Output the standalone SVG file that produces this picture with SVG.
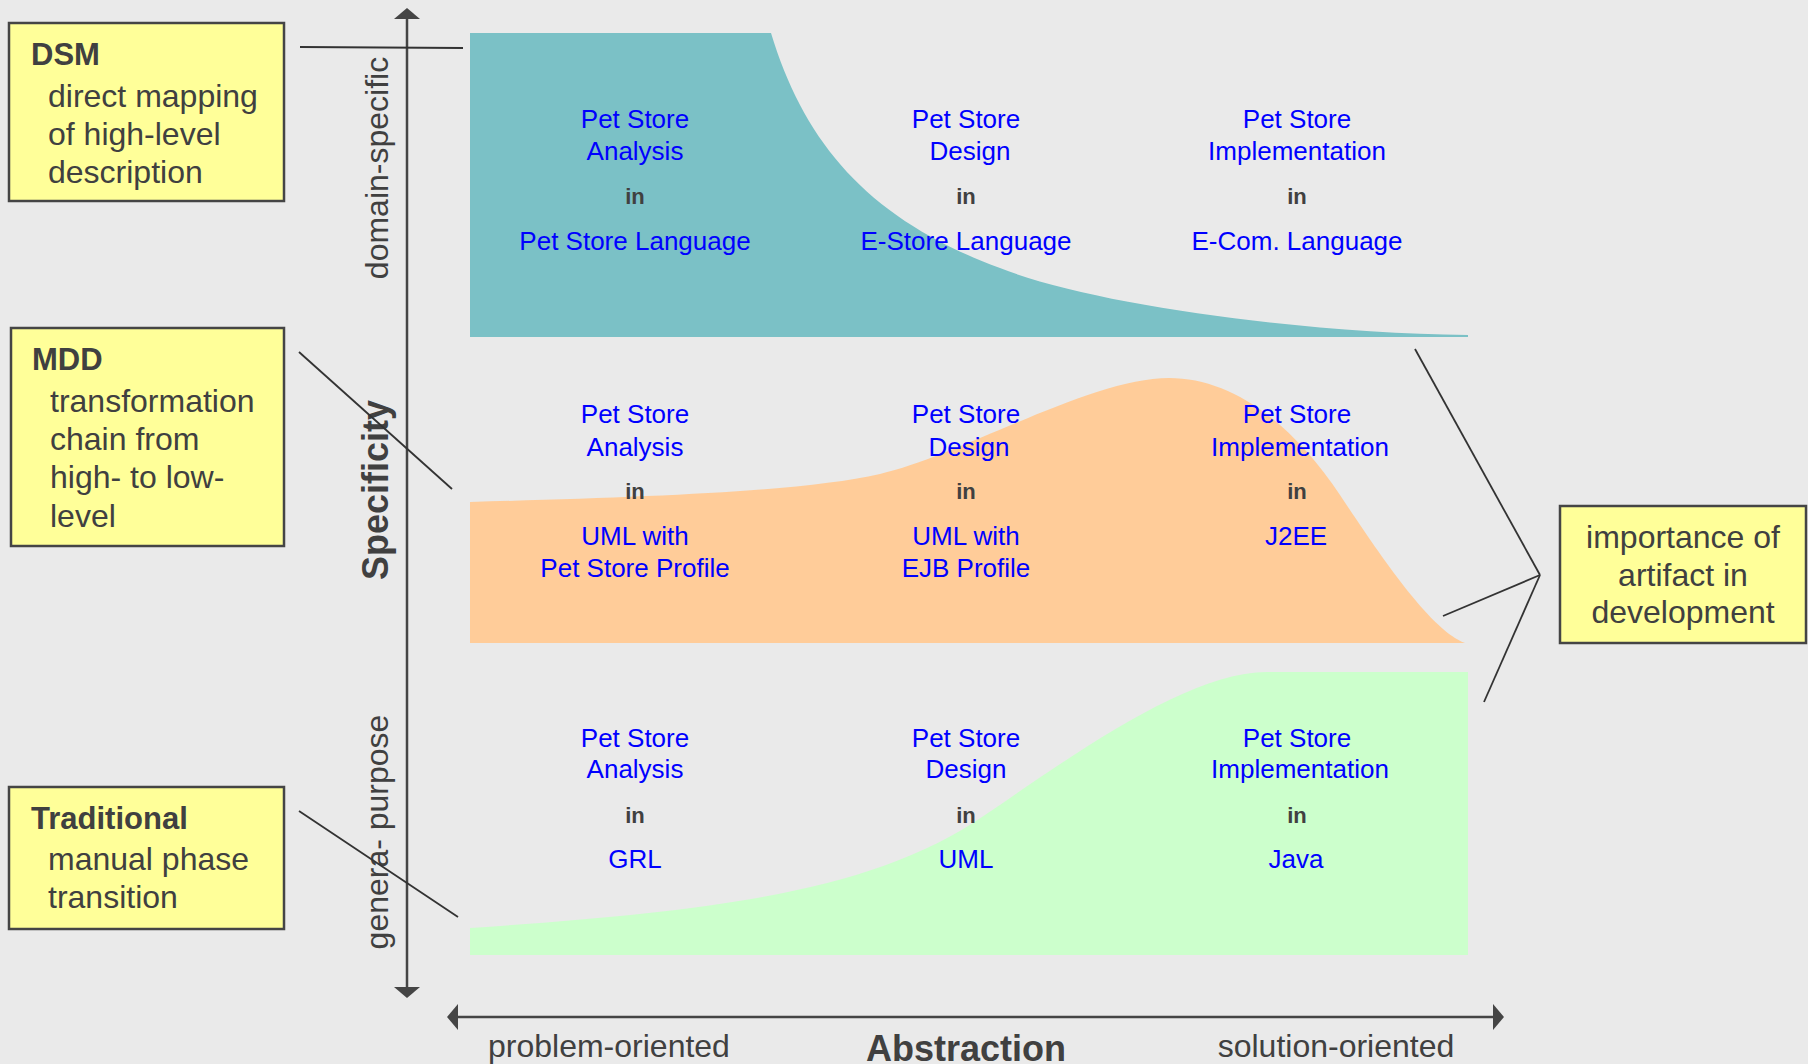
<svg xmlns="http://www.w3.org/2000/svg" width="1808" height="1064" viewBox="0 0 1808 1064">
<style>
.bg{fill:#EAEAEA}
.box{fill:#FFFF99;stroke:#454545;stroke-width:2.5}
.t{font-family:"Liberation Sans",Arial,sans-serif;fill:#404040}
.hd{font-size:31px;font-weight:bold}
.bd{font-size:32px}
.lbl{font-family:"Liberation Sans",Arial,sans-serif;fill:#0000FF;font-size:26px;text-anchor:middle}
.in{font-family:"Liberation Sans",Arial,sans-serif;fill:#404040;font-size:22px;font-weight:bold;text-anchor:middle}
.ax{stroke:#454545;stroke-width:2.5;fill:none}
.cn{stroke:#333333;stroke-width:1.8;fill:none}
.ah{fill:#454545}
</style>
<rect class="bg" x="0" y="0" width="1808" height="1064"/>

<g id="areas">
<path id="teal" d="M470,33 L771,33 C805,145 870,220 1000,268 C1090,304 1300,333 1468,335 L1468,337 L470,337 Z" fill="#7BC1C6"/>
<path id="orange" d="M470,502 C650,497 800,492 880,474 C960,456 1090,378 1169,378 C1230,378 1290,420 1340,495 C1380,555 1430,630 1465,643 L470,643 Z" fill="#FFCC99"/>
<path id="green" d="M470,928 C700,912 870,895 985,815 C1080,750 1190,672 1267,672 L1468,672 L1468,955 L470,955 Z" fill="#CCFFCC"/>
</g>

<g id="axes">
<line class="ax" x1="407" y1="16" x2="407" y2="990"/>
<polygon class="ah" points="407,8 394,19 420,19"/>
<polygon class="ah" points="407,998 394,987 420,987"/>
<line class="ax" x1="455" y1="1017" x2="1496" y2="1017"/>
<polygon class="ah" points="447,1017 458,1004 458,1030"/>
<polygon class="ah" points="1504,1017 1493,1004 1493,1030"/>
<text class="t" font-size="32" transform="translate(388,168) rotate(-90)" text-anchor="middle">domain-specific</text>
<text class="t" font-size="36" font-weight="bold" transform="translate(388,490) rotate(-90)" text-anchor="middle">Specificity</text>
<text class="t" font-size="32" transform="translate(388,832) rotate(-90)" text-anchor="middle">genera- purpose</text>
<text class="t" font-size="32" x="488" y="1057">problem-oriented</text>
<text class="t" font-size="36" font-weight="bold" x="966" y="1061" text-anchor="middle">Abstraction</text>
<text class="t" font-size="32" x="1336" y="1057" text-anchor="middle">solution-oriented</text>
</g>

<g id="connectors">
<line class="cn" x1="300" y1="47" x2="463" y2="48"/>
<line class="cn" x1="299" y1="352" x2="452" y2="489"/>
<line class="cn" x1="299" y1="811" x2="458" y2="917"/>
<line class="cn" x1="1540" y1="575" x2="1415" y2="349"/>
<line class="cn" x1="1540" y1="575" x2="1443" y2="616"/>
<line class="cn" x1="1540" y1="575" x2="1484" y2="702"/>
</g>

<g id="node-dsm">
<rect class="box" x="9" y="23" width="275" height="178"/>
<text class="t hd" x="31" y="65">DSM</text>
<text class="t bd" x="48" y="107">direct mapping</text>
<text class="t bd" x="48" y="145">of high-level</text>
<text class="t bd" x="48" y="183">description</text>
</g>

<g id="node-mdd">
<rect class="box" x="11" y="328" width="273" height="218"/>
<text class="t hd" x="32" y="370">MDD</text>
<text class="t bd" x="50" y="412">transformation</text>
<text class="t bd" x="50" y="450">chain from</text>
<text class="t bd" x="50" y="488">high- to low-</text>
<text class="t bd" x="50" y="527">level</text>
</g>

<g id="node-traditional">
<rect class="box" x="9" y="787" width="275" height="142"/>
<text class="t hd" x="31" y="829">Traditional</text>
<text class="t bd" x="48" y="870">manual phase</text>
<text class="t bd" x="48" y="908">transition</text>
</g>

<g id="node-importance">
<rect class="box" x="1560" y="506" width="246" height="137"/>
<text class="t bd" x="1683" y="548" text-anchor="middle">importance of</text>
<text class="t bd" x="1683" y="586" text-anchor="middle">artifact in</text>
<text class="t bd" x="1683" y="623" text-anchor="middle">development</text>
</g>

<g id="row-dsm">
<text class="lbl" x="635" y="128">Pet Store</text>
<text class="lbl" x="635" y="160">Analysis</text>
<text class="in" x="635" y="204">in</text>
<text class="lbl" x="635" y="250">Pet Store Language</text>
<text class="lbl" x="966" y="128">Pet Store</text>
<text class="lbl" x="970" y="160">Design</text>
<text class="in" x="966" y="204">in</text>
<text class="lbl" x="966" y="250">E-Store Language</text>
<text class="lbl" x="1297" y="128">Pet Store</text>
<text class="lbl" x="1297" y="160">Implementation</text>
<text class="in" x="1297" y="204">in</text>
<text class="lbl" x="1297" y="250">E-Com. Language</text>
</g>

<g id="row-mdd">
<text class="lbl" x="635" y="423">Pet Store</text>
<text class="lbl" x="635" y="456">Analysis</text>
<text class="in" x="635" y="499">in</text>
<text class="lbl" x="635" y="545">UML with</text>
<text class="lbl" x="635" y="577">Pet Store Profile</text>
<text class="lbl" x="966" y="423">Pet Store</text>
<text class="lbl" x="969" y="456">Design</text>
<text class="in" x="966" y="499">in</text>
<text class="lbl" x="966" y="545">UML with</text>
<text class="lbl" x="966" y="577">EJB Profile</text>
<text class="lbl" x="1297" y="423">Pet Store</text>
<text class="lbl" x="1300" y="456">Implementation</text>
<text class="in" x="1297" y="499">in</text>
<text class="lbl" x="1296" y="545">J2EE</text>
</g>

<g id="row-traditional">
<text class="lbl" x="635" y="747">Pet Store</text>
<text class="lbl" x="635" y="778">Analysis</text>
<text class="in" x="635" y="823">in</text>
<text class="lbl" x="635" y="868">GRL</text>
<text class="lbl" x="966" y="747">Pet Store</text>
<text class="lbl" x="966" y="778">Design</text>
<text class="in" x="966" y="823">in</text>
<text class="lbl" x="966" y="868">UML</text>
<text class="lbl" x="1297" y="747">Pet Store</text>
<text class="lbl" x="1300" y="778">Implementation</text>
<text class="in" x="1297" y="823">in</text>
<text class="lbl" x="1296" y="868">Java</text>
</g>
</svg>
